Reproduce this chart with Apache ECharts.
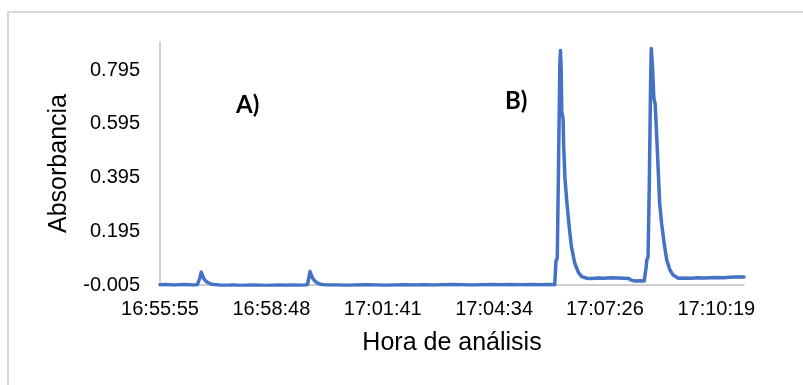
<!DOCTYPE html>
<html>
<head>
<meta charset="utf-8">
<script src="https://cdn.jsdelivr.net/npm/echarts@6/dist/echarts.min.js"></script>
<style>
  html, body { margin: 0; padding: 0; background: #ffffff; }
  #chart { width: 803px; height: 385px; }
</style>
</head>
<body>
<div id="chart"></div>
<script>
// Sampling times (HH:MM:SS) and measured absorbance
const sampleTimes = [
  '16:55:55','16:56:05','16:56:15','16:56:25','16:56:35','16:56:45','16:56:53','16:56:55',
  '16:56:57','16:56:59','16:57:01','16:57:03','16:57:06','16:57:10','16:57:15','16:57:22',
  '16:57:30','16:57:40','16:57:50','16:58:00','16:58:10','16:58:20','16:58:30','16:58:40',
  '16:58:50','16:59:00','16:59:10','16:59:20','16:59:30','16:59:40','16:59:44','16:59:46',
  '16:59:48','16:59:50','16:59:52','16:59:55','16:59:59','17:00:04','17:00:10','17:00:18',
  '17:00:30','17:00:45','17:01:00','17:01:15','17:01:30','17:01:45','17:02:00','17:02:15',
  '17:02:30','17:02:45','17:03:00','17:03:15','17:03:30','17:03:45','17:04:00','17:04:15',
  '17:04:30','17:04:45','17:05:00','17:05:15','17:05:30','17:05:45','17:06:00','17:06:08',
  '17:06:09','17:06:10','17:06:12','17:06:14','17:06:16','17:06:17','17:06:18','17:06:19',
  '17:06:21','17:06:22','17:06:24','17:06:27','17:06:31','17:06:34','17:06:39','17:06:45',
  '17:06:50','17:06:58','17:07:05','17:07:15','17:07:25','17:07:35','17:07:45','17:07:55',
  '17:08:03','17:08:07','17:08:12','17:08:20','17:08:27','17:08:29','17:08:30','17:08:31',
  '17:08:33','17:08:35','17:08:37','17:08:38','17:08:40','17:08:42','17:08:44','17:08:46',
  '17:08:49','17:08:51','17:08:54','17:08:58','17:09:02','17:09:07','17:09:12','17:09:20',
  '17:09:30','17:09:40','17:09:50','17:10:00','17:10:10','17:10:20','17:10:30','17:10:40',
  '17:10:50','17:11:02'
];
const absorbance = [
  -0.004,-0.003,-0.005,-0.004,-0.003,-0.005,-0.004,-0.002,
  0.022,0.043,0.031,0.019,0.010,0.003,-0.002,-0.004,
  -0.006,-0.006,-0.005,-0.007,-0.006,-0.005,-0.006,-0.007,
  -0.006,-0.005,-0.006,-0.005,-0.006,-0.005,-0.004,0.020,
  0.045,0.033,0.021,0.011,0.003,-0.002,-0.004,-0.005,
  -0.005,-0.006,-0.005,-0.004,-0.005,-0.006,-0.005,-0.004,
  -0.005,-0.004,-0.005,-0.004,-0.003,-0.004,-0.005,-0.004,
  -0.003,-0.004,-0.003,-0.004,-0.003,-0.004,-0.003,-0.004,
  0.040,0.085,0.095,0.450,0.820,0.868,0.800,0.640,
  0.615,0.510,0.390,0.300,0.200,0.138,0.077,0.041,
  0.026,0.020,0.019,0.021,0.020,0.022,0.021,0.020,
  0.019,0.013,0.010,0.011,0.010,0.014,0.060,0.088,
  0.100,0.380,0.760,0.876,0.800,0.690,0.670,0.572,
  0.410,0.300,0.225,0.150,0.088,0.051,0.032,0.020,
  0.021,0.020,0.022,0.021,0.022,0.023,0.022,0.024,
  0.025,0.025
];

// Axis ticks and ranges
const xTickLabels = ['16:55:55','16:58:48','17:01:41','17:04:34','17:07:26','17:10:19'];
const xRange = ['16:55:55','17:11:02'];
const yTickValues = [-0.005, 0.195, 0.395, 0.595, 0.795];
const yRange = [-0.005, 0.9];

function toSeconds(hms) {
  const p = hms.split(':').map(Number);
  return p[0] * 3600 + p[1] * 60 + p[2];
}
function toClock(sec) {
  const s = Math.round(sec);
  const h = Math.floor(s / 3600), m = Math.floor((s % 3600) / 60), r = s % 60;
  return h + ':' + String(m).padStart(2, '0') + ':' + String(r).padStart(2, '0');
}

const seriesData = sampleTimes.map((t, i) => [toSeconds(t), absorbance[i]]);
const axisGray = '#bfbfbf';
const labelFont = 'Liberation Sans, Arial, sans-serif';

const chart = echarts.init(document.getElementById('chart'), null, { renderer: 'canvas' });
chart.setOption({
  animation: false,
  backgroundColor: '#ffffff',
  grid: { left: 160, right: 59, top: 42, bottom: 100, containLabel: false },
  xAxis: {
    type: 'value',
    min: toSeconds(xRange[0]),
    max: toSeconds(xRange[1]),
    name: 'Hora de análisis',
    nameLocation: 'middle',
    nameGap: 46,
    nameTextStyle: { fontFamily: labelFont, fontSize: 25, color: '#000000' },
    axisLine: { show: true, onZero: false, lineStyle: { color: axisGray, width: 1.5 } },
    axisTick: { show: false },
    splitLine: { show: false },
    axisLabel: {
      customValues: xTickLabels.map(toSeconds),
      formatter: v => toClock(v),
      fontFamily: labelFont, fontSize: 20, color: '#000000', margin: 14,
      hideOverlap: false
    }
  },
  yAxis: {
    type: 'value',
    min: yRange[0],
    max: yRange[1],
    name: 'Absorbancia',
    nameLocation: 'middle',
    nameGap: 88,
    nameTextStyle: { fontFamily: labelFont, fontSize: 25, color: '#000000' },
    axisLine: { show: true, lineStyle: { color: axisGray, width: 1.5 } },
    axisTick: { show: false },
    splitLine: { show: false },
    axisLabel: {
      customValues: yTickValues,
      formatter: v => v.toFixed(3),
      fontFamily: labelFont, fontSize: 20, color: '#000000', margin: 20
    }
  },
  graphic: [
    {
      type: 'rect', z: -10, silent: true,
      shape: { x: 8, y: 12, width: 820, height: 400 },
      style: { fill: 'none', stroke: '#d9d9d9', lineWidth: 2 }
    },
    {
      type: 'text', left: 236, top: 93,
      style: { text: 'A)', font: 'bold 24px Lato, "Open Sans", sans-serif', fill: '#000000' }
    },
    {
      type: 'text', left: 505, top: 89,
      style: { text: 'B)', font: 'bold 24px Lato, "Open Sans", sans-serif', fill: '#000000' }
    }
  ],
  series: [{
    type: 'line',
    data: seriesData,
    showSymbol: false,
    smooth: false,
    lineStyle: { color: '#4472c4', width: 3.5, join: 'round', cap: 'round' },
    itemStyle: { color: '#4472c4' }
  }]
});
</script>
</body>
</html>
